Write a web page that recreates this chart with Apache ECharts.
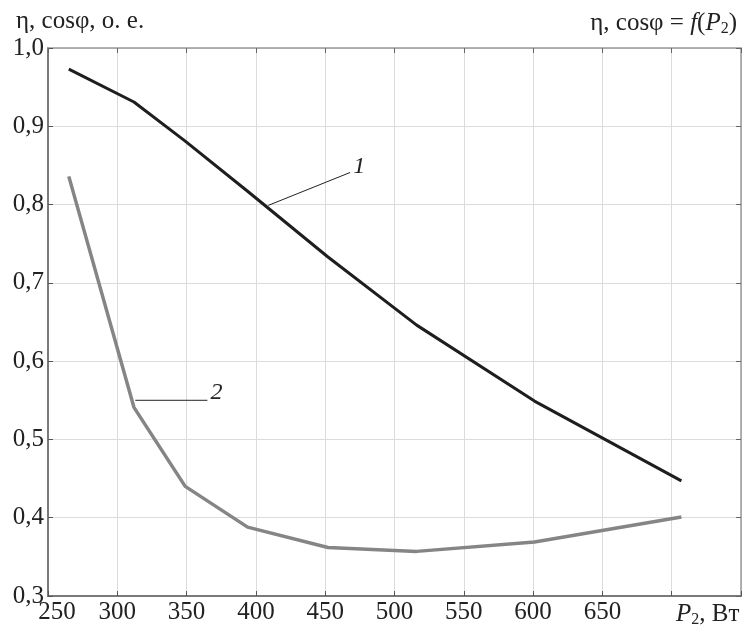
<!DOCTYPE html>
<html>
<head>
<meta charset="utf-8">
<title>η, cosφ = f(P2)</title>
<script src="https://cdn.jsdelivr.net/npm/echarts@6/dist/echarts.min.js"></script>
<style>
  html, body { margin: 0; padding: 0; background: #fff; }
  #main { width: 745px; height: 635px; }
</style>
</head>
<body>
<div id="main"></div>
<script>
// мощность P2, Вт
const p2 = [265, 312, 349, 394, 452, 516, 601, 707];
// кривая 1 (КПД)
const curve1 = [0.973, 0.931, 0.881, 0.817, 0.733, 0.646, 0.549, 0.447];
// кривая 2 (cosφ)
const curve2 = [0.836, 0.541, 0.440, 0.388, 0.362, 0.357, 0.369, 0.401];
// выноски для номеров кривых
const leader1 = [[409, 0.799], [468, 0.841]];
const leader2 = [[313, 0.550], [365, 0.550]];
const xTicks = [250, 300, 350, 400, 450, 500, 550, 600, 650];

const serif = "Liberation Serif";
const fs = 25;

let chartDom = document.getElementById("main");
let myChart = echarts.init(chartDom);

function toPairs(xs, ys) {
  return xs.map((x, i) => [x, ys[i]]);
}

function leaderSeries(name, pts, text, dy) {
  return {
    name: name,
    type: "line",
    data: pts,
    showSymbol: false,
    symbol: "none",
    lineStyle: { color: "#222", width: 1 },
    endLabel: {
      show: true,
      formatter: text,
      distance: 3,
      offset: [0, dy],
      fontFamily: serif,
      fontStyle: "italic",
      fontSize: 24,
      color: "#222",
    },
    z: 6,
  };
}

let option = {
  animation: false,
  backgroundColor: "#fff",
  title: [
    {
      text: "η, cosφ, о. е.",
      left: 11,
      top: 4,
      textStyle: { fontFamily: serif, fontSize: fs, fontWeight: "normal", color: "#222" },
    },
    {
      text: "η, cosφ = {i|f}({i|P}{s|2})",
      right: 3,
      top: 4,
      textStyle: {
        fontFamily: serif,
        fontSize: fs,
        fontWeight: "normal",
        color: "#222",
        rich: {
          i: { fontFamily: serif, fontSize: fs, fontStyle: "italic", color: "#222" },
          s: { fontFamily: serif, fontSize: 16, color: "#222", verticalAlign: "bottom", padding: [12, 0, 0, 0] },
        },
      },
    },
  ],
  grid: { left: 48, right: 4, top: 48, bottom: 39, containLabel: false },
  xAxis: [
    {
      type: "value",
      min: 250,
      max: 750,
      interval: 50,
      axisLine: { lineStyle: { color: "#7a7a7a", width: 2 } },
      axisTick: { inside: true, length: 5, lineStyle: { color: "#555", width: 1 } },
      splitLine: { show: true, lineStyle: { color: "#dcdcdc", width: 1 } },
      axisLabel: {
        margin: 4,
        fontFamily: serif,
        fontSize: fs,
        color: "#222",
        showMaxLabel: true,
        formatter: function (v) {
          if (v === 250) return "{sp0|}250";
          if (xTicks.indexOf(v) >= 0) return String(v);
          if (v === 700) return "{sp|}{i|P}{s|2}, Вт";
          return "";
        },
        rich: {
          sp0: { width: 18 },
          sp: { width: 72 },
          i: { fontFamily: serif, fontSize: fs, fontStyle: "italic", color: "#222" },
          s: { fontFamily: serif, fontSize: 16, color: "#222", verticalAlign: "bottom", padding: [12, 0, 0, 0] },
        },
      },
    },
    {
      type: "value",
      position: "top",
      min: 250,
      max: 750,
      interval: 50,
      axisLine: { show: true, lineStyle: { color: "#9a9a9a", width: 1.5 } },
      axisTick: { show: true, inside: true, length: 5, lineStyle: { color: "#666", width: 1 } },
      splitLine: { show: false },
      axisLabel: { show: false },
    },
  ],
  yAxis: [
    {
      type: "value",
      min: 0.3,
      max: 1.0,
      interval: 0.1,
      axisLine: { show: true, lineStyle: { color: "#7a7a7a", width: 2 } },
      axisTick: { show: true, inside: true, length: 5, lineStyle: { color: "#555", width: 1 } },
      splitLine: { show: true, lineStyle: { color: "#dcdcdc", width: 1 } },
      axisLabel: {
        margin: 4,
        fontFamily: serif,
        fontSize: fs,
        color: "#222",
        formatter: (v) => v.toFixed(1).replace(".", ","),
      },
    },
    {
      type: "value",
      position: "right",
      min: 0.3,
      max: 1.0,
      interval: 0.1,
      axisLine: { show: true, lineStyle: { color: "#9a9a9a", width: 1.5 } },
      axisTick: { show: true, inside: true, length: 5, lineStyle: { color: "#666", width: 1 } },
      splitLine: { show: false },
      axisLabel: { show: false },
    },
  ],
  series: [
    {
      name: "1",
      type: "line",
      data: toPairs(p2, curve1),
      showSymbol: false,
      lineStyle: { color: "#1e1e1e", width: 3 },
      z: 5,
    },
    {
      name: "2",
      type: "line",
      data: toPairs(p2, curve2),
      showSymbol: false,
      lineStyle: { color: "#858585", width: 3.5 },
      z: 4,
    },
    leaderSeries("выноска 1", leader1, "1", -6),
    leaderSeries("выноска 2", leader2, "2", -8),
  ],
};

option && myChart.setOption(option);
</script>
</body>
</html>
